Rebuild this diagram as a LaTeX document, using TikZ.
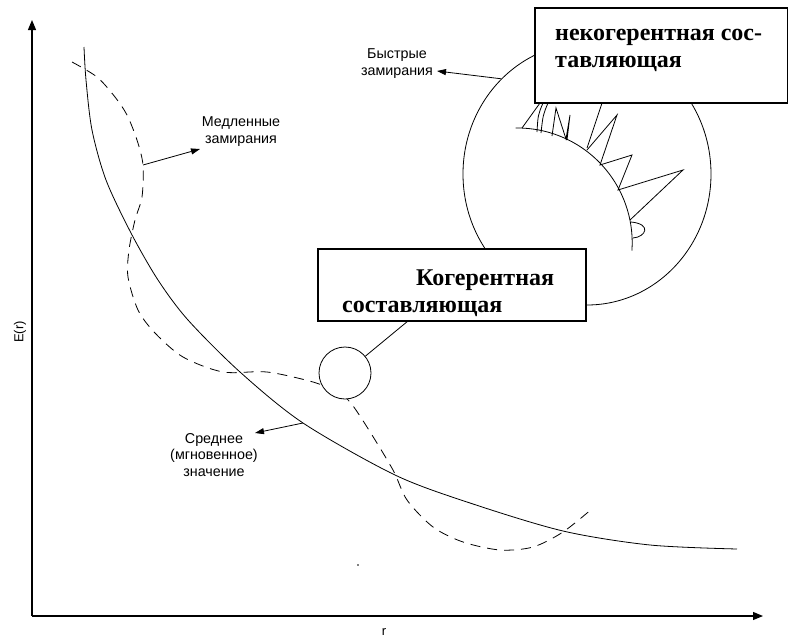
\documentclass[tikz,border=0pt]{standalone}
\usepackage{fontspec}
\setmainfont{Liberation Serif}
\setsansfont{Liberation Sans}
\usetikzlibrary{arrows.meta,shapes.geometric}
\begin{document}
\begin{tikzpicture}
[x=1pt,y=-1pt,inner sep=0pt,
 thin/.style={line width=0.8pt},
 axis/.style={line width=1.1pt,-{Triangle[length=10pt,width=8pt]}},
 pointer/.style={line width=0.8pt,-{Triangle[length=9pt,width=6pt]}},
 lbl/.style={font=\sffamily\fontsize{14.3}{16.5}\selectfont,align=center,anchor=base},
 framebox/.style={shape=rectangle,draw,fill=white,line width=1.6pt,anchor=north west},
 boxtext/.style={font=\bfseries\fontsize{24}{27}\selectfont,align=left,anchor=base west}]
\useasboundingbox (0,0) rectangle (788,637);
\path (32,616) coordinate (o)
      (32,20) coordinate (ytip)
      (763,616) coordinate (xtip);
\draw [axis] (o) -- (ytip);
\draw [axis] (o) -- (xtip);
\path (20,332) node (ylab) [rotate=90,font=\sffamily\fontsize{13}{15}\selectfont] {E(r)}
      (384,628) node (xlab) [anchor=north,font=\sffamily\fontsize{13}{15}\selectfont] {r};
\fill (358,565) circle (0.8pt);
\draw [thin] plot [smooth] coordinates {(84,47) (86,80) (92,130) (106,180) (131,233) (158,280)
  (188,320) (240,372) (303,423) (395,475) (470,503) (563,531) (650,545) (737,549)};
\draw [thin,dash pattern=on 10pt off 7pt] plot [smooth] coordinates {(72,62) (97,77) (115,97)
  (127,115) (137,140) (143,165) (142,197) (135,220) (129,250) (128,277) (138,310) (155,333)
  (183,357) (223,372) (267,372) (313,382) (337,392) (350,402) (367,427) (393,470) (407,500)
  (433,527) (463,542) (500,550) (533,547) (563,532) (593,508)};
\path (345,373) node (probe) [shape=circle,draw,thin,fill=white,minimum size=52pt] {}
      (587,174) node (fastzone) [shape=ellipse,draw,thin,minimum width=248pt,minimum height=262pt] {};
\draw [thin] plot [smooth,domain=-91:4,samples=30] ({517.5+114.7*cos(\x)},{242.7+114.7*sin(\x)});
\draw [thin] (522,128) -- (540,103);
\draw [thin] (537,132) .. controls (538,115) .. (543,103);
\draw [thin] (541,133) .. controls (543,115) .. (548,103);
\draw [thin] (552,136) -- (556,108) -- (566,139) -- (570,115) -- (567,140);
\draw [thin] (587,148) -- (602,103);
\draw [thin] (587,150) -- (617,115) -- (600,165) -- (632,155) -- (618,190) -- (683,170) -- (630,220);
\draw [thin] (631,222) .. controls (652,224) and (646,237) .. (633,238);
\path (534,7) node (incbox) [framebox,minimum width=253pt,minimum height=95pt] {}
      (317,248) node (cohbox) [framebox,minimum width=268pt,minimum height=72pt] {};
\path (555,67) node (inctext) [boxtext] {некогерентная сос-\\тавляющая}
      (342,312) node (cohtext) [boxtext] {\hspace*{74pt}Когерентная\\составляющая};
\draw [thin] (probe) -- (cohbox);
\path (241,143) node (slowlbl) [lbl] {Медленные\\замирания}
      (397,75) node (fastlbl) [lbl] {Быстрые\\замирания}
      (214,476) node (meanlbl) [lbl] {Среднее\\(мгновенное)\\значение};
\path (143,165) coordinate (slowpt)
      (200,149) coordinate (slowtip)
      (437,71) coordinate (fasttip)
      (303,423) coordinate (meanpt)
      (255,433) coordinate (meantip);
\draw [pointer] (slowpt) -- (slowtip);
\draw [pointer] (fastzone.132.8) -- (fasttip);
\draw [pointer] (meanpt) -- (meantip);
\end{tikzpicture}
\end{document}
